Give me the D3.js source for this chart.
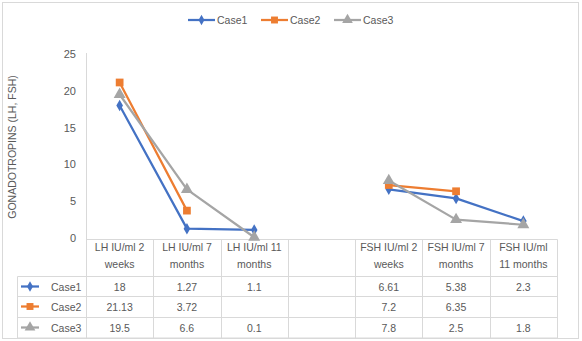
<!DOCTYPE html>
<html>
<head>
<meta charset="utf-8">
<script src="https://cdn.jsdelivr.net/npm/d3@7"></script>
<style>
  body { margin: 0; background: #fff; }
  svg text { font-family: "Liberation Sans", Arial, sans-serif; fill: #595959; }
</style>
</head>
<body>
<div id="chart"></div>
<script>
// categories along the x axis (the 4th slot is an empty spacer column)
var categories = ['LH 2w', 'LH 7m', 'LH 11m', 'gap', 'FSH 2w', 'FSH 7m', 'FSH 11m'];
var headerLines = [
    ['LH IU/ml 2', 'weeks'],
    ['LH IU/ml 7', 'months'],
    ['LH IU/ml 11', 'months'],
    ['', ''],
    ['FSH IU/ml 2', 'weeks'],
    ['FSH IU/ml 7', 'months'],
    ['FSH IU/ml', '11 months']
];
var seriesNames = ['Case1', 'Case2', 'Case3'];
var case1 = [18, 1.27, 1.1, null, 6.61, 5.38, 2.3];
var case2 = [21.13, 3.72, null, null, 7.2, 6.35, null];
var case3 = [19.5, 6.6, 0.1, null, 7.8, 2.5, 1.8];
var yTicks = [0, 5, 10, 15, 20, 25];

var colors = ['#4472C4', '#ED7D31', '#A5A5A5'];
var shapes = [d3.symbolDiamond, d3.symbolSquare, d3.symbolTriangle];
var shapeSizes = [38, 60, 62];

var width = 582, height = 341;
var gridColor = '#d9d9d9';

var svg = d3.select('#chart').append('svg')
    .attr('width', width)
    .attr('height', height);

// outer chart frame
svg.append('rect')
    .attr('x', 2.5).attr('y', 2.5)
    .attr('width', 576).attr('height', 336)
    .attr('fill', 'none')
    .attr('stroke', gridColor);

var x = d3.scaleBand().domain(categories).range([86, 557]).padding(0);
var y = d3.scaleLinear().domain([0, 25]).range([238, 54]);

// y axis
var yAxis = svg.append('g')
    .attr('transform', 'translate(76,0)')
    .call(d3.axisLeft(y).tickValues(yTicks).tickSize(0).tickPadding(0));
yAxis.select('.domain').remove();
yAxis.selectAll('text')
    .attr('font-size', '11px')
    .style('font-family', '"Liberation Sans", Arial, sans-serif')
    .attr('fill', '#595959');

svg.append('text')
    .attr('transform', 'translate(16,147) rotate(-90)')
    .attr('text-anchor', 'middle')
    .attr('font-size', '10.5px')
    .text('GONADOTROPINS (LH, FSH)');

// axis line running down through the table
svg.append('line')
    .attr('x1', 86.5).attr('x2', 86.5)
    .attr('y1', 53).attr('y2', 338)
    .attr('stroke', gridColor);

// data table
var tableTop = 239.5, headerBottom = 276.5;
var rowLines = [276.5, 296.5, 317.5, 338];
var labelLeft = 17.5;

svg.append('line')
    .attr('x1', 86).attr('x2', 557.5)
    .attr('y1', tableTop).attr('y2', tableTop)
    .attr('stroke', gridColor);

rowLines.forEach(function (ly) {
    svg.append('line')
        .attr('x1', labelLeft).attr('x2', 557.5)
        .attr('y1', ly).attr('y2', ly)
        .attr('stroke', gridColor);
});

svg.append('line')
    .attr('x1', labelLeft).attr('x2', labelLeft)
    .attr('y1', headerBottom).attr('y2', 338)
    .attr('stroke', gridColor);

categories.forEach(function (c) {
    var xr = Math.round(x(c) + x.bandwidth()) + 0.5;
    svg.append('line')
        .attr('x1', xr).attr('x2', xr)
        .attr('y1', tableTop).attr('y2', 338)
        .attr('stroke', gridColor);
});

// header cells
var header = svg.append('g').attr('class', 'header');
categories.forEach(function (c, i) {
    var cx = x(c) + x.bandwidth() / 2;
    headerLines[i].forEach(function (t, k) {
        header.append('text')
            .attr('x', cx)
            .attr('y', 251 + k * 17)
            .attr('text-anchor', 'middle')
            .attr('font-size', '10.5px')
            .text(t);
    });
});

// value rows
var seriesData = [case1, case2, case3];
var rowCenters = [286.5, 306.5, 327.5];

seriesData.forEach(function (vals, s) {
    var cy = rowCenters[s];
    var row = svg.append('g').attr('class', 'row');
    row.append('line')
        .attr('x1', 21).attr('x2', 39)
        .attr('y1', cy).attr('y2', cy)
        .attr('stroke', colors[s]).attr('stroke-width', 2.25);
    row.append('path')
        .attr('d', d3.symbol().type(shapes[s]).size(shapeSizes[s] * 0.8)())
        .attr('transform', 'translate(30,' + cy + ')')
        .attr('fill', colors[s]);
    row.append('text')
        .attr('x', 51).attr('y', cy + 4)
        .attr('font-size', '10.5px')
        .text(seriesNames[s]);
    vals.forEach(function (v, i) {
        if (v === null) return;
        row.append('text')
            .attr('x', x(categories[i]) + x.bandwidth() / 2)
            .attr('y', cy + 4)
            .attr('text-anchor', 'middle')
            .attr('font-size', '10.5px')
            .text(v);
    });
});

// series lines and markers
var line = d3.line()
    .defined(function (d) { return d.v !== null; })
    .x(function (d) { return x(d.c) + x.bandwidth() / 2; })
    .y(function (d) { return y(d.v); });

var plot = svg.append('g').attr('class', 'series');
seriesData.forEach(function (vals, s) {
    var pts = vals.map(function (v, i) { return { c: categories[i], v: v }; });
    plot.append('path')
        .datum(pts)
        .attr('d', line)
        .attr('fill', 'none')
        .attr('stroke', colors[s])
        .attr('stroke-width', 2.25)
        .attr('stroke-linejoin', 'round');
});
seriesData.forEach(function (vals, s) {
    var pts = vals.map(function (v, i) { return { c: categories[i], v: v }; })
        .filter(function (d) { return d.v !== null; });
    plot.selectAll('path.m' + s)
        .data(pts)
        .enter().append('path')
        .attr('class', 'm' + s)
        .attr('d', d3.symbol().type(shapes[s]).size(shapeSizes[s])())
        .attr('transform', function (d) {
            return 'translate(' + (x(d.c) + x.bandwidth() / 2) + ',' + y(d.v) + ')';
        })
        .attr('fill', colors[s]);
});

// legend
var legendX = [188, 261, 334];
var legend = svg.append('g').attr('class', 'legend');
seriesNames.forEach(function (name, s) {
    var lx = legendX[s], ly = 20;
    legend.append('line')
        .attr('x1', lx).attr('x2', lx + 27)
        .attr('y1', ly).attr('y2', ly)
        .attr('stroke', colors[s]).attr('stroke-width', 2.25);
    legend.append('path')
        .attr('d', d3.symbol().type(shapes[s]).size(shapeSizes[s] * 0.8)())
        .attr('transform', 'translate(' + (lx + 13.5) + ',' + ly + ')')
        .attr('fill', colors[s]);
    legend.append('text')
        .attr('x', lx + 29).attr('y', ly + 4)
        .attr('font-size', '10.5px')
        .text(name);
});
</script>
</body>
</html>
